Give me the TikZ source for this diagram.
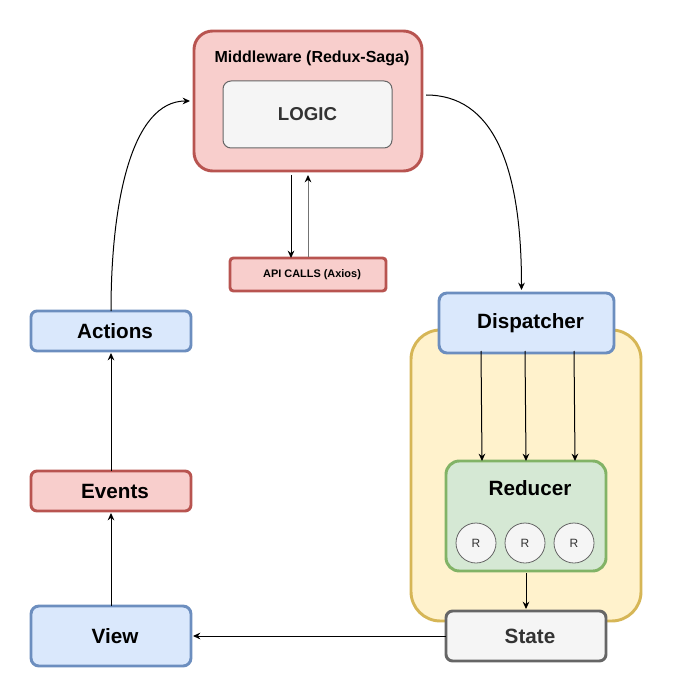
\documentclass[tikz,border=0pt]{standalone}
\usepackage{fontspec}
\setmainfont{Liberation Sans}
\usetikzlibrary{arrows.meta,calc}
\definecolor{bluef}{HTML}{DAE8FC}
\definecolor{blued}{HTML}{6C8EBF}
\definecolor{redf}{HTML}{F8CECC}
\definecolor{redd}{HTML}{B85450}
\definecolor{yelf}{HTML}{FFF2CC}
\definecolor{yeld}{HTML}{D6B656}
\definecolor{grnf}{HTML}{D5E8D4}
\definecolor{grnd}{HTML}{82B366}
\definecolor{grayf}{HTML}{F5F5F5}
\definecolor{grayd}{HTML}{666666}
\definecolor{grayt}{HTML}{333333}
\def\pxu{0.75pt}
\begin{document}
\begin{tikzpicture}[x=0.75pt,y=-0.75pt,
  boxbase/.style={rectangle, inner sep=0pt, outer sep=0pt, line width=2.2pt},
  bluebox/.style={boxbase, draw=blued, fill=bluef},
  redbox/.style={boxbase, draw=redd, fill=redf},
  graybox/.style={boxbase, draw=grayd, fill=grayf},
  lbl/.style={font=\bfseries\fontsize{15.5pt}{18pt}\selectfont, text=black, xshift=4*\pxu},
  arr/.style={-{Stealth[length=5.5pt,width=5pt,inset=1.8pt,color=black]}, line width=0.75pt, black}]
\useasboundingbox (0,0) rectangle (673,698);

% yellow container
\node[boxbase, draw=yeld, fill=yelf, minimum width=230*\pxu, minimum height=291*\pxu, rounded corners=22pt] (cont) at (526,475.5) {};

% Middleware
\node[redbox, minimum width=228*\pxu, minimum height=140*\pxu, rounded corners=14pt] (mw) at (308,101) {};
\node[font=\bfseries\fontsize{12pt}{14pt}\selectfont] (mwtitle) at (312,58) {Middleware (Redux-Saga)};
\node[boxbase, draw=grayd, fill=grayf, line width=0.75pt, minimum width=169*\pxu, minimum height=67*\pxu, rounded corners=6pt,
      font=\bfseries\fontsize{14pt}{16pt}\selectfont, text=grayt] (logic) at (307.5,114.5) {LOGIC};

% API calls
\node[redbox, minimum width=156*\pxu, minimum height=33*\pxu, rounded corners=2.5pt,
      font=\bfseries\fontsize{8.2pt}{10pt}\selectfont] (api) at (308,274.5) {\hspace*{6pt}API CALLS (Axios)};

% left column
\node[bluebox, minimum width=160*\pxu, minimum height=40*\pxu, rounded corners=4.5pt, label={[lbl]center:Actions}] (act) at (111,331) {};
\node[redbox, minimum width=160*\pxu, minimum height=40*\pxu, rounded corners=4.5pt, label={[lbl]center:Events}] (evt) at (111,491) {};
\node[bluebox, minimum width=160*\pxu, minimum height=60*\pxu, rounded corners=6pt, label={[lbl]center:View}] (view) at (111,636) {};

% right column
\node[bluebox, minimum width=175*\pxu, minimum height=60*\pxu, rounded corners=6pt, label={[lbl]center:Dispatcher}] (disp) at (526.5,323) {};
\node[boxbase, draw=grnd, fill=grnf, minimum width=160*\pxu, minimum height=110*\pxu, rounded corners=10pt] (red) at (526,516) {};
\node[lbl] (redtitle) at (526,488) {Reducer};
\foreach \i/\x in {1/476,2/525,3/574}{
  \node[circle, draw=grayd, fill=grayf, line width=0.6pt, minimum size=40*\pxu, inner sep=0pt, outer sep=0pt,
        font=\fontsize{9pt}{10pt}\selectfont, text=grayt] (r\i) at (\x,543) {R};
}
\node[graybox, minimum width=160*\pxu, minimum height=50*\pxu, rounded corners=5pt, label={[lbl, text=grayt]center:State}] (state) at (526,636) {};

% connectors
\draw[arr] (act.north) .. controls ($(act.north)+(0,-110)$) and ($(mw.west)+(-62,0)$) .. ($(mw.west)+(-4,0)$);
\draw[arr] ($(mw.east)+(4,-6)$) .. controls ($(mw.east)+(70,-6)$) and ($(disp.north)+(-5,-130)$) .. ($(disp.north)+(-5,-3)$);
\draw[arr] ($(mw.south)+(-17,4)$) -- ($(api.north)+(-17,0)$);
\draw[arr, draw=black!55] ($(api.north)+(0,-1)$) -- ($(mw.south)+(0,4)$);
\draw[arr] (evt.north) -- ($(act.south)+(0,2)$);
\draw[arr] (view.north) -- ($(evt.south)+(0,2)$);
\draw[arr] (state.west) -- ($(view.east)+(2,0)$);
\draw[arr] ($(disp.south)+(-45.5,-2)$) -- ($(red.north)+(-44,0)$);
\draw[arr] ($(disp.south)+(-1.5,-2)$) -- ($(red.north)+(0,0)$);
\draw[arr] ($(disp.south)+(47.5,-2)$) -- ($(red.north)+(49,0)$);
\draw[arr] ($(red.south)+(0,2)$) -- ($(state.north)+(0,-2)$);
\end{tikzpicture}
\end{document}
